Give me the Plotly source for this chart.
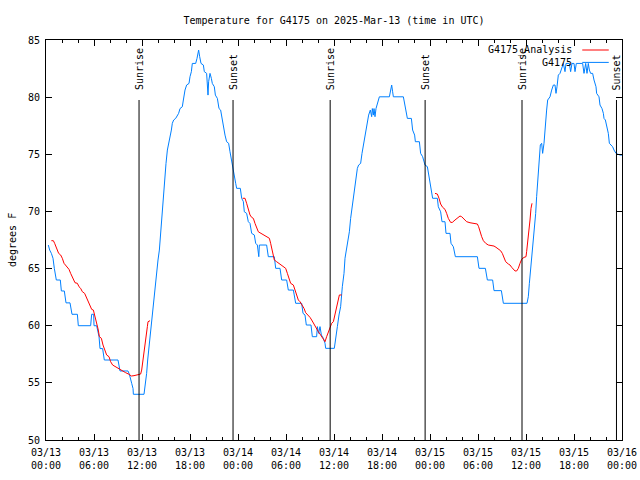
import pandas as pd
import plotly.graph_objects as go

BASE = pd.Timestamp("2025-03-13 00:00")

# G4175 observations: hours after 2025-03-13 00:00 UTC, temperature (F)
blue_hours = [0.29, 0.46, 0.67, 0.875, 1.04, 1.29, 1.79, 1.92, 2.29, 2.5, 3.0, 3.25, 3.92, 4.04, 5.58, 5.71,
              5.96, 6.0, 6.33, 6.46, 6.63, 6.75, 7.08, 7.29, 9.0, 9.25, 10.25, 10.42, 10.58, 10.71, 10.88,
              10.92, 12.25, 12.46, 12.58, 12.71, 12.875, 13.0, 13.125, 13.29, 13.5, 13.67, 13.83, 14.0,
              14.17, 14.29, 14.46, 14.58, 14.71, 14.79, 14.92, 15.0, 15.17, 15.37, 15.5, 15.67, 15.79,
              15.96, 16.21, 16.58, 16.75, 17.04, 17.17, 17.375, 17.58, 17.875, 18.0, 18.17, 18.29, 18.71,
              18.875, 19.08, 19.21, 19.375, 19.67, 19.79, 20.08, 20.17, 20.25, 20.33, 20.5, 20.67, 20.79,
              21.04, 21.17, 21.42, 21.625, 21.83, 22.0, 22.21, 22.375, 22.58, 22.83, 23.0, 23.125, 23.33,
              23.46, 23.58, 23.71, 23.83, 24.29, 24.46, 24.67, 24.79, 25.08, 25.29, 25.5, 25.71, 26.04,
              26.21, 26.42, 26.6, 26.67, 27.58, 27.79, 28.54, 28.71, 29.25, 29.46, 30.08, 30.29, 30.92,
              31.21, 31.96, 32.125, 32.375, 32.54, 33.125, 33.29, 33.83, 33.92, 34.08, 34.25, 34.42,
              34.67, 34.875, 34.96, 36.04, 36.21, 36.42, 36.625, 36.83, 37.04, 37.25, 37.375, 37.58,
              37.71, 37.92, 38.08, 38.25, 38.42, 38.58, 38.75, 38.92, 39.08, 39.33, 39.5, 39.67, 39.83,
              40.0, 40.17, 40.33, 40.54, 40.71, 40.79, 40.92, 41.0, 41.125, 41.25, 41.46, 41.67, 42.92,
              43.08, 43.21, 43.33, 43.42, 44.67, 44.875, 45.17, 45.67, 45.83, 46.08, 46.17, 46.67, 46.83,
              47.08, 47.29, 47.375, 47.67, 47.875, 48.125, 48.33, 48.92, 49.04, 49.33, 49.5, 49.875,
              50.0, 50.5, 50.625, 50.92, 51.17, 53.92, 54.125, 54.92, 55.17, 55.83, 56.0, 56.92, 57.17,
              60.125, 60.29, 60.42, 60.58, 60.71, 60.92, 61.08, 61.21, 61.33, 61.5, 61.625, 61.79, 61.96,
              62.08, 62.25, 62.375, 62.58, 62.71, 63.0, 63.21, 63.42, 63.625, 63.75, 63.875, 64.04,
              64.25, 64.46, 64.67, 64.875, 65.0, 65.42, 65.58, 65.75, 66.0, 66.125, 66.29, 67.08, 67.25,
              67.46, 67.625, 67.79, 67.92, 68.08, 68.33, 68.5, 68.75, 68.83, 69.125, 69.25, 69.5, 69.67,
              69.75, 69.92, 70.08, 70.29, 70.42, 70.58, 70.83, 71.0, 71.25, 71.75, 72.0]
blue_temps = [67.06, 66.62, 66.33, 65.9, 65.02, 64.0, 64.0, 63.04, 63.04, 62.0, 62.0, 61.0, 61.0, 60.0, 60.0, 61.0,
              61.0, 60.0, 60.0, 59.6, 59.04, 58.0, 58.0, 57.0, 57.0, 56.04, 56.04, 55.75, 55.4, 54.96, 54.5,
              54.0, 54.0, 54.96, 55.83, 57.0, 58.16, 59.33, 59.92, 61.08, 62.25, 63.41, 64.58, 65.75,
              66.62, 67.79, 69.25, 70.41, 71.58, 72.46, 73.62, 74.2, 75.37, 75.96, 76.54, 77.12, 77.71,
              78.0, 78.14, 78.58, 79.0, 79.16, 79.75, 80.62, 81.06, 81.2, 81.79, 82.23, 82.95, 82.95,
              83.39, 84.12, 83.54, 82.95, 82.81, 82.23, 82.08, 81.35, 80.18, 81.35, 82.08, 81.64, 81.2,
              80.91, 80.18, 79.89, 79.0, 78.87, 78.14, 77.27, 76.68, 76.1, 75.96, 75.22, 74.79, 74.06,
              73.33, 72.9, 72.46, 72.02, 72.02, 71.15, 70.85, 69.97, 69.83, 69.1, 68.95, 68.08, 67.94,
              67.21, 67.06, 66.04, 67.06, 67.06, 66.04, 66.04, 65.02, 65.02, 64.0, 64.0, 63.12, 63.12,
              61.96, 61.96, 61.08, 60.94, 60.06, 60.06, 59.04, 59.04, 59.92, 59.33, 59.92, 59.19,
              58.9, 58.46, 58.02, 58.02, 58.75, 59.92, 60.94, 61.66, 63.41, 64.58, 65.9, 66.77,
              67.35, 68.22, 69.39, 70.27, 71.15, 72.31, 73.18, 73.77, 74.06, 74.2, 75.08, 75.81, 76.68,
              77.27, 77.85, 78.43, 78.87, 78.29, 79.0, 78.43, 79.0, 78.29, 79.0, 79.6, 80.03, 80.03,
              80.62, 81.06, 80.47, 80.03, 80.03, 79.16, 78.14, 78.14, 77.12, 76.68, 76.1, 76.1, 75.08,
              74.79, 74.2, 74.06, 73.92, 73.04, 72.16, 71.15, 71.15, 70.41, 69.97, 69.1, 69.1,
              68.08, 68.08, 67.21, 66.91, 66.04, 66.04, 65.02, 65.02, 64.0, 64.0, 63.07, 63.07, 61.96,
              61.96, 62.54, 63.71, 64.87, 66.04, 67.21, 68.37, 69.83, 71.29, 73.04, 74.5, 75.81, 75.96,
              75.08, 75.96, 77.41, 78.87, 79.75, 80.03, 80.62, 81.06, 81.06, 80.33, 80.91, 81.93,
              82.08, 82.52, 82.95, 82.23, 82.95, 82.95, 82.23, 82.95, 82.95, 82.23, 82.95, 82.95, 82.08,
              82.95, 82.08, 82.95, 82.37, 82.08, 82.08, 81.5, 80.91, 80.33, 80.03, 79.31, 79.0, 78.58,
              78.14, 78.0, 77.41, 76.83, 75.96, 75.81, 75.66, 75.37, 75.08, 74.93, 74.93]

# G4175_Analysis: hours after 2025-03-13 00:00 UTC (None = gap), temperature (F)
red_hours = [0.67, 0.92, 1.08, 1.25, 1.42, 1.58, 1.83, 2.04, 2.25, 2.42, 2.67, 2.875, 3.08, 3.29, 3.42, 3.625,
             3.92, 4.125, 4.33, 4.54, 4.83, 5.08, 5.29, 5.5, 5.71, 5.92, 6.08, 6.29, 6.42, 6.54, 6.67, 6.92,
             7.125, 7.33, 7.58, 7.875, 8.08, 8.33, 8.67, 8.92, 9.33, 9.58, 9.96, 10.375, 10.67, 11.0, 11.33,
             11.83, 11.96, 12.08, 12.25, 12.375, 12.54, 12.67, 12.75, 13.0,
             None,
             24.58, 24.875, 25.08, 25.29, 25.5, 25.71, 25.92, 26.125, 26.33, 26.54, 26.875, 27.17, 27.46,
             27.92, 28.08, 28.21, 28.42, 28.54, 28.83, 29.125, 29.46, 29.79, 29.96, 30.17, 30.375, 30.58,
             30.92, 31.125, 31.33, 31.54, 31.75, 32.04, 32.25, 32.46, 32.79, 33.0, 33.21, 33.42, 33.625,
             33.83, 34.04, 34.25, 34.46, 34.67, 34.875, 35.08, 35.29, 35.5, 35.71, 35.92, 36.125, 36.33,
             36.54, 36.67, 36.96,
             None,
             48.625, 48.92, 49.125, 49.33, 49.58, 49.875, 50.08, 50.29, 50.58, 50.79, 51.125, 51.46, 51.75,
             51.96, 52.25, 52.58, 53.0, 53.5, 53.92, 54.08, 54.25, 54.46, 54.67, 54.96, 55.29, 55.71, 56.0,
             56.25, 56.54, 56.83, 57.04, 57.25, 57.46, 57.79, 58.0, 58.21, 58.42, 58.625, 58.83, 59.04,
             59.25, 59.46, 59.75, 60.0, 60.08, 60.21, 60.33, 60.5, 60.625, 60.75]
red_temps = [67.44, 67.44, 67.21, 66.91, 66.62, 66.33, 66.19, 65.9, 65.46, 65.31, 65.02, 64.93, 64.58, 64.29, 64.14,
             63.76, 63.71, 63.41, 63.27, 62.98, 62.83, 62.4, 62.1, 61.81, 61.43, 61.37, 60.94, 60.5, 60.06,
             59.62, 59.04, 58.9, 58.31, 57.87, 57.44, 57.29, 56.85, 56.56, 56.41, 56.27, 56.12, 55.98, 55.89,
             55.75, 55.6, 55.63, 55.69, 55.77, 56.12, 56.85, 57.58, 58.46, 59.19, 59.92, 60.35, 60.44,
             None,
             71.15, 71.15, 70.71, 70.12, 69.69, 69.48, 69.39, 68.95, 68.66, 68.22, 68.08, 67.94, 67.79,
             67.65, 67.21, 66.77, 66.19, 65.75, 65.6, 65.46, 65.25, 65.08, 65.02, 64.58, 64.14, 63.71,
             63.56, 63.12, 62.69, 62.25, 62.1, 61.81, 61.52, 61.14, 60.94, 60.73, 60.5, 60.21, 59.97,
             59.77, 59.48, 59.27, 59.04, 58.81, 58.6, 59.04, 59.48, 59.92, 60.21, 60.35, 60.94, 61.66,
             62.25, 62.69, 62.69,
             None,
             71.58, 71.52, 71.15, 70.65, 70.36, 70.18, 69.83, 69.39, 69.04, 69.04, 69.25, 69.48, 69.6,
             69.54, 69.31, 69.1, 69.01, 68.95, 68.9, 68.66, 68.22, 67.79, 67.44, 67.21, 67.06, 67.0, 66.97,
             66.86, 66.68, 66.56, 66.33, 65.9, 65.6, 65.4, 65.31, 65.11, 64.93, 64.79, 64.79, 65.02,
             65.46, 65.81, 65.98, 66.04, 66.48, 67.21, 68.22, 69.25, 70.27, 70.71]

sun_event_hours = [11.63, 23.38, 35.52, 47.39, 59.5, 71.31]
sun_event_labels = ["Sunrise", "Sunset", "Sunrise", "Sunset", "Sunrise", "Sunset"]

y_ticks = [50, 55, 60, 65, 70, 75, 80, 85]


def to_time(hours):
    return [None if h is None else BASE + pd.Timedelta(hours=h) for h in hours]


FONT = "DejaVu Sans Mono"
RED = "#ff0000"
BLUE = "#0080ff"

fig = go.Figure()
fig.add_trace(go.Scatter(x=to_time(blue_hours), y=blue_temps, mode="lines", name="G4175",
                         line=dict(color=BLUE, width=1), connectgaps=False))
fig.add_trace(go.Scatter(x=to_time(red_hours), y=red_temps, mode="lines", name="G4175_Analysis",
                         line=dict(color=RED, width=1), connectgaps=False))

for h, lab in zip(sun_event_hours, sun_event_labels):
    t = BASE + pd.Timedelta(hours=h)
    fig.add_shape(type="line", xref="x", yref="paper", x0=t, x1=t, y0=0, y1=0.85,
                  line=dict(color="black", width=1))
    fig.add_annotation(x=t, xref="x", y=0.87, yref="paper", text=lab, textangle=-90,
                       showarrow=False, xanchor="center", yanchor="bottom",
                       font=dict(family=FONT, size=10, color="black"))

# gnuplot-style legend: text right-aligned, sample line on the right
legend_items = [("G4175_Analysis", RED, 0.975), ("G4175", BLUE, 0.944)]
for name, col, yy in legend_items:
    fig.add_annotation(x=0.917, xref="paper", y=yy, yref="paper", text=name, showarrow=False,
                       xanchor="right", yanchor="middle", font=dict(family=FONT, size=10, color="black"))
    fig.add_shape(type="line", xref="paper", yref="paper", x0=0.931, x1=0.977, y0=yy, y1=yy,
                  line=dict(color=col, width=1))

# y-axis title
fig.add_annotation(x=-0.059, xref="paper", y=0.5, yref="paper", text="degrees F", textangle=-90,
                   showarrow=False, xanchor="center", yanchor="middle",
                   font=dict(family=FONT, size=10, color="black"))

fig.update_layout(
    width=640, height=480,
    margin=dict(l=46, r=18, t=40, b=40, autoexpand=False),
    paper_bgcolor="white", plot_bgcolor="white",
    showlegend=False,
    font=dict(family=FONT, size=10, color="black"),
    title=dict(text="Temperature for G4175 on 2025-Mar-13 (time in UTC)", x=0.5, xref="paper",
               y=1 - 20 / 480, yref="container", xanchor="center", yanchor="middle",
               font=dict(family=FONT, size=10, color="black")),
)
fig.update_xaxes(
    type="date", automargin=False,
    range=[BASE, BASE + pd.Timedelta(hours=72)],
    dtick=6 * 3600 * 1000, tick0=BASE,
    tickformat="%m/%d<br>%H:%M",
    ticks="inside", ticklen=6, tickcolor="black", ticklabelstandoff=3,
    ticklabeloverflow="allow",
    minor=dict(dtick=2 * 3600 * 1000, ticks="inside", ticklen=3, tickcolor="black", showgrid=False),
    showline=True, linecolor="black", linewidth=1, mirror="allticks",
    showgrid=False, zeroline=False,
    tickfont=dict(family=FONT, size=10, color="black"),
)
fig.update_yaxes(
    automargin=False,
    range=[50, 85], tickvals=y_ticks, ticktext=[str(v) for v in y_ticks],
    ticks="inside", ticklen=6, tickcolor="black", ticklabelstandoff=3,
    showline=True, linecolor="black", linewidth=1, mirror="allticks",
    showgrid=False, zeroline=False,
    tickfont=dict(family=FONT, size=10, color="black"),
)

# remove the default page margin so the 640x480 figure fills the window exactly
fig.write_html("out.html", config={"displayModeBar": False},
               post_script="document.body.style.margin='0';document.body.style.overflow='hidden';")
